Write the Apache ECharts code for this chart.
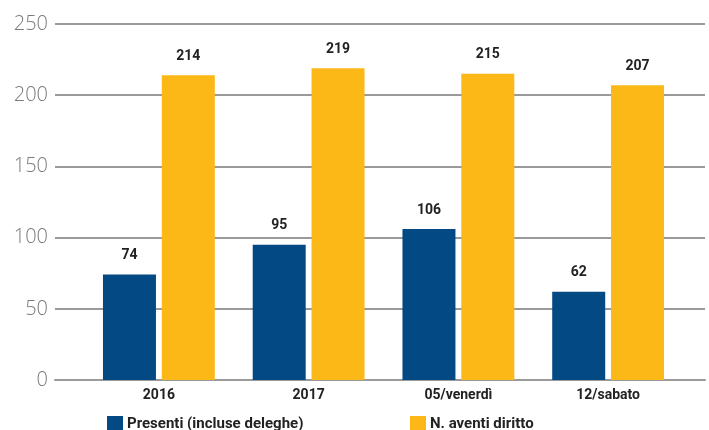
<!DOCTYPE html>
<html><head><meta charset="utf-8">
<script src="https://cdn.jsdelivr.net/npm/echarts@6/dist/echarts.min.js"></script>
<style>html,body{margin:0;padding:0;background:#fff}#c{width:709px;height:430px}</style>
</head><body><div id="c"></div>
<script>
const categories = ['2016', '2017', '05/venerdì', '12/sabato'];
const presenti = [74, 95, 106, 62];
const aventi = [214, 219, 215, 207];
const seriesNames = ['Presenti (incluse deleghe)', 'N. aventi diritto'];
const yTicks = [0, 50, 100, 150, 200, 250];

const chart = echarts.init(document.getElementById('c'), null, {renderer: 'canvas'});
const boldFont = 'Roboto';
const gTop = 24, gBottom = 50;
chart.setOption({
  animation: false,
  grid: [
    {left: 55, right: 4, top: gTop, bottom: gBottom},
    {left: 84, right: 26, top: gTop, bottom: gBottom}
  ],
  legend: [
    {data: [seriesNames[0]], left: 102, top: 411, itemWidth: 16, itemHeight: 16, itemGap: 0, icon: 'rect',
     textStyle: {fontFamily: boldFont, fontWeight: 'bold', fontSize: 15, color: '#222', padding: [0,0,0,-1]}},
    {data: [seriesNames[1]], left: 405, top: 411, itemWidth: 16, itemHeight: 16, itemGap: 0, icon: 'rect',
     textStyle: {fontFamily: boldFont, fontWeight: 'bold', fontSize: 15, color: '#222', padding: [0,0,0,-1]}}
  ],
  xAxis: [
    {gridIndex: 0, type: 'category', data: categories, show: true,
     axisLine: {show: true, lineStyle: {color: '#9a9a9a', width: 2}}, axisTick: {show: false}, axisLabel: {show: false}},
    {gridIndex: 1, type: 'category', data: categories,
     axisLine: {show: false}, axisTick: {show: false},
     axisLabel: {margin: 8, fontFamily: boldFont, fontWeight: 'bold', fontSize: 14, color: '#222'}}
  ],
  yAxis: [
    {gridIndex: 0, type: 'value', min: yTicks[0], max: yTicks[yTicks.length-1], interval: 50,
     axisLine: {show: false}, axisTick: {show: false},
     axisLabel: {margin: 7, fontFamily: 'Open Sans', fontWeight: 300, fontSize: 20, color: '#7a7a7a', padding: [0,0,6,0]},
     splitLine: {show: true, lineStyle: {color: '#9a9a9a', width: 2}}},
    {gridIndex: 1, type: 'value', min: yTicks[0], max: yTicks[yTicks.length-1], interval: 50, show: false,
     splitLine: {show: false}}
  ],
  series: [
    {name: seriesNames[0], type: 'bar', xAxisIndex: 1, yAxisIndex: 1, data: presenti,
     barWidth: 53, barGap: '11%', itemStyle: {color: '#034a85'},
     label: {show: true, position: 'top', distance: 12, fontFamily: boldFont, fontWeight: 'bold', fontSize: 14, color: '#222'}},
    {name: seriesNames[1], type: 'bar', xAxisIndex: 1, yAxisIndex: 1, data: aventi,
     barWidth: 53, itemStyle: {color: '#fbb817'},
     label: {show: true, position: 'top', distance: 12, fontFamily: boldFont, fontWeight: 'bold', fontSize: 14, color: '#222'}}
  ]
});
</script></body></html>
